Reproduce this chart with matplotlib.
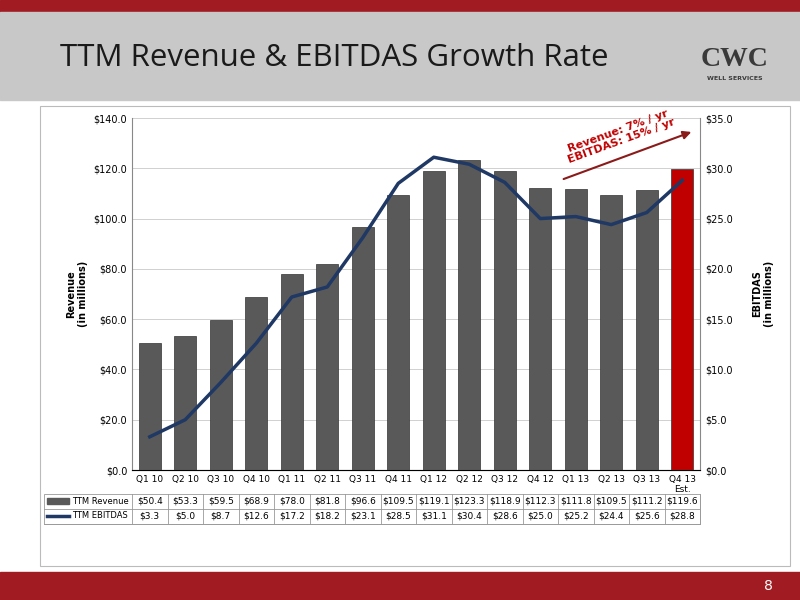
import matplotlib.pyplot as plt
import matplotlib.patches as patches
import numpy as np

quarters = ['Q1 10', 'Q2 10', 'Q3 10', 'Q4 10', 'Q1 11', 'Q2 11', 'Q3 11', 'Q4 11',
            'Q1 12', 'Q2 12', 'Q3 12', 'Q4 12', 'Q1 13', 'Q2 13', 'Q3 13', 'Q4 13\nEst.']
revenue = [50.4, 53.3, 59.5, 68.9, 78.0, 81.8, 96.6, 109.5,
           119.1, 123.3, 118.9, 112.3, 111.8, 109.5, 111.2, 119.6]
ebitdas = [3.3, 5.0, 8.7, 12.6, 17.2, 18.2, 23.1, 28.5,
           31.1, 30.4, 28.6, 25.0, 25.2, 24.4, 25.6, 28.8]

W, H = 800, 600
fig = plt.figure(figsize=(8, 6), dpi=100)
bg = fig.add_axes([0, 0, 1, 1])
bg.set_xlim(0, W); bg.set_ylim(H, 0); bg.axis('off')

# slide frame
bg.add_patch(patches.Rectangle((0, 0), W, 12, color='#a01c22'))
bg.add_patch(patches.Rectangle((0, 12), W, 88, color='#c8c8c8'))
bg.add_patch(patches.Rectangle((0, 572), W, 28, color='#a01c22'))
bg.add_patch(patches.Rectangle((40, 106), 750, 460, facecolor='white',
                               edgecolor='#bbbbbb', lw=0.8))
bg.text(60, 58, 'TTM Revenue & EBITDAS Growth Rate', fontsize=22.5,
        color='#1a1a1a', va='center', family='Open Sans')
bg.text(735, 60, 'CWC', fontsize=20, fontweight='bold', color='#3a3a3a',
        ha='center', va='center', family='Liberation Serif')
bg.text(735, 78, 'WELL SERVICES', fontsize=4.5, fontweight='bold',
        color='#3a3a3a', ha='center', va='center')
bg.text(768, 586, '8', fontsize=10, color='white', ha='center', va='center')

x = np.arange(len(quarters))
ax = fig.add_axes([132 / W, 1 - 470 / H, (700 - 132) / W, (470 - 118) / H])
ax.patch.set_visible(False)
colors = ['#595959'] * (len(x) - 1) + ['#c00000']
ax.bar(x, revenue, width=0.62, color=colors, edgecolor='#333333', lw=0.5, zorder=2)
ax.set_xlim(-0.5, len(x) - 0.5)
ax.set_ylim(0, 140)
ax.set_yticks(np.arange(0, 141, 20))
ax.set_yticklabels([f'${v:.1f}' for v in np.arange(0, 141, 20)], fontsize=7)
ax.yaxis.grid(True, color='#d0d0d0', lw=0.7, zorder=0)
ax.set_xticks(x)
ax.set_xticklabels(quarters, fontsize=6.5)
ax.tick_params(length=0)
for s in ['top', 'right']:
    ax.spines[s].set_visible(False)
ax.spines['left'].set_color('#888888')
ax.spines['bottom'].set_color('#888888')
ax.set_ylabel('Revenue\n(in millions)', fontsize=7, fontweight='bold')

ax2 = ax.twinx()
ax2.plot(x, ebitdas, color='#1f3864', lw=2.5, zorder=3)
ax2.set_ylim(0, 35)
ax2.set_yticks(np.arange(0, 36, 5))
ax2.set_yticklabels([f'${v:.1f}' for v in np.arange(0, 36, 5)], fontsize=7)
ax2.tick_params(length=0)
for s in ['top', 'left']:
    ax2.spines[s].set_visible(False)
ax2.spines['right'].set_color('#888888')
ax2.set_ylabel('EBITDAS\n(in millions)', fontsize=7, fontweight='bold',
               rotation=90, labelpad=14)

# growth arrow and label (figure-level so it sits on top)
fig.add_artist(patches.FancyArrowPatch((561 / W, 1 - 180 / H), (694 / W, 1 - 131 / H),
                                       transform=fig.transFigure, arrowstyle='-|>',
                                       color='#8b1a1a', lw=1.5, mutation_scale=12))
fig.text(620 / W, 1 - 136 / H, 'Revenue: 7% / yr\nEBITDAS: 15% / yr', fontsize=8,
         fontweight='bold', color='#c00000', rotation=20, ha='center',
         va='center', linespacing=1.0)

# data table
left, right = 132, 700
cw = (right - left) / len(x)
rows = [(501, 'TTM Revenue', [f'${v:.1f}' for v in revenue]),
        (516, 'TTM EBITDAS', [f'${v:.1f}' for v in ebitdas])]
bg.add_patch(patches.Rectangle((44, 494), right - 44, 30, fill=False,
                               edgecolor='#999999', lw=0.6))
for ry, name, vals in rows:
    bg.plot([44, right], [ry + 8, ry + 8], color='#999999', lw=0.6)
    if name == 'TTM Revenue':
        bg.add_patch(patches.Rectangle((47, ry - 3), 22, 6, color='#595959'))
    else:
        bg.plot([47, 69], [ry, ry], color='#1f3864', lw=2.5)
    bg.text(72, ry, name, fontsize=6, va='center')
    for i, v in enumerate(vals):
        bg.text(left + cw * (i + 0.5), ry, v, fontsize=6.5, ha='center', va='center')
for i in range(len(x) + 1):
    bg.plot([left + cw * i] * 2, [494, 524], color='#999999', lw=0.6)

fig.savefig('out.png', dpi=100)
